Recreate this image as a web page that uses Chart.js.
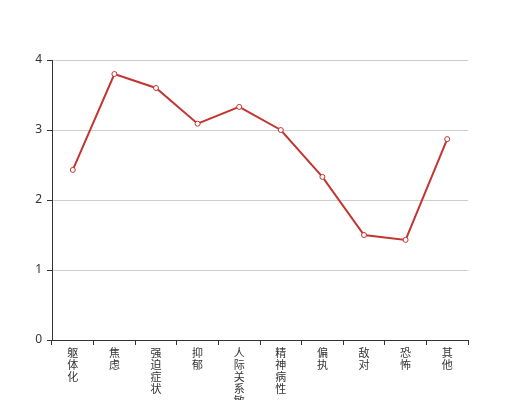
<!DOCTYPE html>
<html>
<head>
<meta charset="utf-8">
<script src="https://cdn.jsdelivr.net/npm/chart.js@4"></script>
<style>
  html, body { margin: 0; padding: 0; background: #fff; }
  #wrap { width: 520px; height: 400px; }
</style>
</head>
<body>
<div id="wrap"><canvas id="chart" width="520" height="400"></canvas></div>
<script>
// categories (factor names) and mean scores
const categories = ["躯体化", "焦虑", "强迫症状", "抑郁", "人际关系敏感", "精神病性", "偏执", "敌对", "恐怖", "其他"];
const scores = [2.43, 3.80, 3.60, 3.09, 3.33, 3.00, 2.33, 1.50, 1.43, 2.87];
const yTicks = [0, 1, 2, 3, 4];

// vertical labels: one character per line
const verticalLabels = categories.map((c) => c.split(""));

const ctx = document.getElementById("chart");
let myChart = new Chart(ctx, {
  type: "line",
  data: {
    labels: verticalLabels,
    datasets: [
      {
        data: scores,
        borderColor: "#c23531",
        borderWidth: 2,
        backgroundColor: "#ffffff",
        pointBackgroundColor: "#ffffff",
        pointBorderColor: "#c23531",
        pointBorderWidth: 1,
        pointRadius: 2.5,
        tension: 0,
        fill: false,
      },
    ],
  },
  options: {
    responsive: false,
    animation: false,
    layout: { padding: { top: 60, right: 52, left: 0, bottom: 0 } },
    plugins: {
      legend: { display: false },
      tooltip: { enabled: false },
    },
    scales: {
      x: {
        offset: true,
        grid: {
          offset: true,
          drawOnChartArea: false,
          drawTicks: true,
          tickLength: 5,
          color: "#333",
        },
        border: { color: "#333", width: 1 },
        ticks: {
          color: "#333",
          padding: 2,
          maxRotation: 0,
          autoSkip: false,
          font: { size: 11, family: "'Noto Sans CJK SC', sans-serif", lineHeight: "12px" },
        },
        afterFit: (axis) => { axis.height = 60; },
      },
      y: {
        min: 0,
        max: 4,
        afterBuildTicks: (axis) => { axis.ticks = yTicks.map((v) => ({ value: v })); },
        grid: {
          color: "#ccc",
          tickLength: 5,
          tickColor: "#333",
        },
        border: { color: "#333", width: 1 },
        ticks: {
          color: "#333",
          padding: 5,
          font: { size: 12, family: "'Noto Sans', sans-serif" },
        },
        afterFit: (axis) => { axis.width = 52; },
      },
    },
  },
});
</script>
</body>
</html>
